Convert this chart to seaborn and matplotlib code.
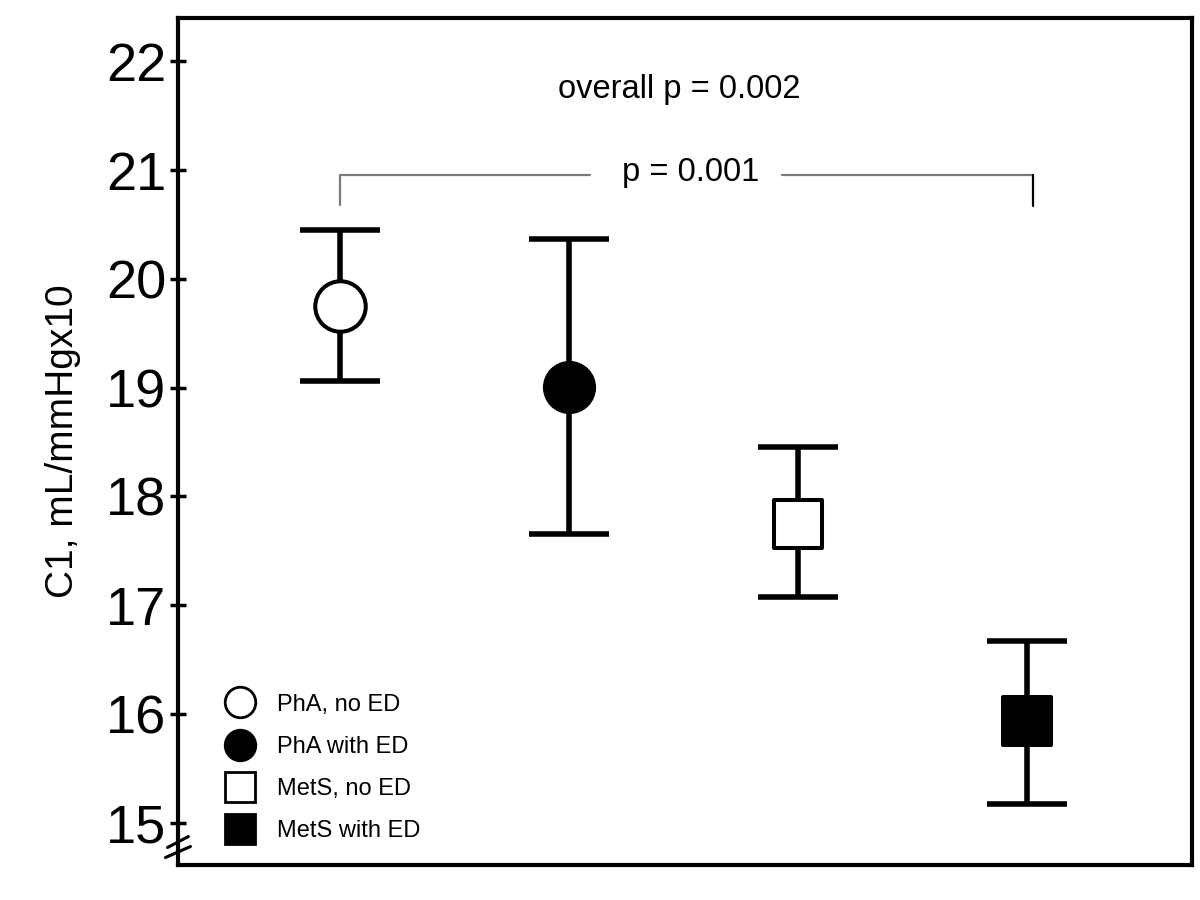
import matplotlib
matplotlib.use("Agg")
import matplotlib.pyplot as plt
from matplotlib.lines import Line2D
import seaborn as sns
import pandas as pd

groups = ["PhA, no ED", "PhA with ED", "MetS, no ED", "MetS with ED"]
means = [19.75, 19.01, 17.75, 15.93]
upper = [20.45, 20.37, 18.45, 16.67]
lower = [19.06, 17.65, 17.07, 15.17]
markers = ["o", "o", "s", "s"]
faces = ["white", "black", "white", "black"]
yticks = [15, 16, 17, 18, 19, 20, 21, 22]

sns.set_theme(style="white")
plt.rcParams["font.family"] = ["Liberation Sans", "DejaVu Sans"]
plt.rcParams["text.color"] = "black"
plt.rcParams["axes.labelcolor"] = "black"
plt.rcParams["ytick.color"] = "black"
plt.rcParams["xtick.color"] = "black"

df = pd.DataFrame({"group": groups, "x": range(len(groups)), "mean": means})

fig = plt.figure(figsize=(12, 9), dpi=100)
ax = fig.add_axes([0.148, 0.039, 0.845, 0.941])

for i, g in enumerate(groups):
    ax.errorbar(i, means[i], yerr=[[means[i] - lower[i]], [upper[i] - means[i]]],
                fmt="none", ecolor="black", elinewidth=4, capsize=29, capthick=4, zorder=2)

sizes = [1320, 1250, 1150, 1190]
for i, g in enumerate(groups):
    sub = df[df.group == g]
    sns.scatterplot(data=sub, x="x", y="mean", marker=markers[i], color=faces[i],
                    edgecolor="black", linewidth=2.9, s=sizes[i],
                    ax=ax, legend=False, zorder=3)

ax.set_xlim(-0.71, 3.72)
ax.set_ylim(14.61, 22.4)
ax.set_yticks(yticks)
ax.set_yticklabels([str(t) for t in yticks], fontsize=39)
ax.set_xticks([])
ax.set_xlabel("")
ax.set_ylabel("C1, mL/mmHgx10", fontsize=28, labelpad=18)
ax.tick_params(axis="y", direction="inout", length=12, width=2.5, pad=2, left=True)
for sp in ax.spines.values():
    sp.set_color("black")
    sp.set_linewidth(3)

# axis break mark
ax.plot([-0.763, -0.654], [14.678, 14.779], color="black", lw=2.2, clip_on=False, zorder=5)
ax.plot([-0.754, -0.663], [14.77, 14.871], color="black", lw=2.2, clip_on=False, zorder=5)

ax.text(1.48, 21.74, "overall p = 0.002", ha="center", va="center", fontsize=23.5)
ax.text(1.53, 20.98, "p = 0.001", ha="center", va="center", fontsize=23.5)
gray = "#7a7a7a"
ax.plot([0, 0, 1.09], [20.68, 20.96, 20.96], color=gray, lw=1.6)
ax.plot([1.93, 3.027], [20.96, 20.96], color=gray, lw=1.6)
ax.plot([3.027, 3.027], [20.96, 20.67], color="black", lw=1.6)

handles = [Line2D([], [], marker=m, linestyle="none", markerfacecolor=f,
                  markeredgecolor="black", markeredgewidth=2, markersize=22)
           for m, f in zip(markers, faces)]
leg = ax.legend(handles, groups, loc="lower left", bbox_to_anchor=(0.027, 0.002),
                frameon=False, fontsize=17, labelspacing=0.85, handletextpad=0.95,
                handlelength=1.2)

fig.savefig("out.png", dpi=100)
